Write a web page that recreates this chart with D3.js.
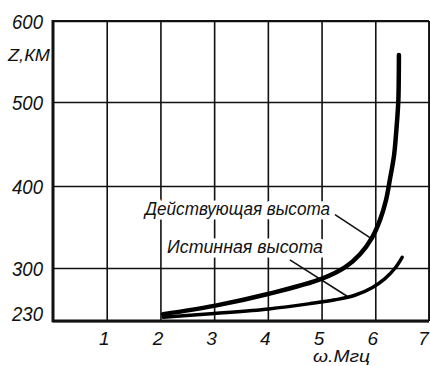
<!DOCTYPE html>
<html>
<head>
<meta charset="utf-8">
<script src="https://cdn.jsdelivr.net/npm/d3@7"></script>
<style>
  html, body { margin: 0; padding: 0; background: #fff; }
  svg { display: block; }
  text { font-family: "Liberation Sans", Arial, sans-serif; font-style: italic; fill: #111; }
</style>
</head>
<body>
<svg id="chart" width="430" height="366"></svg>
<script>
// ---- data ----
const xTicks = [1, 2, 3, 4, 5, 6, 7];
const yTicks = [230, 300, 400, 500, 600];
const xLabel = "ω.Мгц";
const yLabel = "Z,КМ";

// Действующая высота (virtual height): frequency, MHz / height, km
const virtualFreq   = [2.05, 3.00, 4.02, 5.01, 5.44, 5.72, 5.94, 6.09, 6.20, 6.27, 6.35, 6.40, 6.43, 6.44];
const virtualHeight = [239,  250,  266,  286,  301,  317,  337,  359,  383,  407,  437,  473,  503,  558];

// Истинная высота (true height)
const trueFreq   = [2.05, 3.00, 4.02, 4.79, 5.25, 5.62, 5.94, 6.18, 6.37, 6.50];
const trueHeight = [235,  240,  246,  253,  258,  264,  274,  286,  300,  313];

const virtualName = "Действующая высота";
const trueName = "Истинная высота";

// ---- layout ----
const svg = d3.select("#chart");
const mLeft = 53, mRight = 429, mTop = 21, mBottom = 321;

const x = d3.scaleLinear().domain([0, 7]).range([mLeft, mRight]);
// the original grid is unevenly spaced: piecewise-linear scale
const y = d3.scaleLinear().domain([230, 300, 400, 500, 600]).range([mBottom, 268, 186, 102, mTop]);

// gridlines via axes
const gx = svg.append("g").attr("transform", `translate(0,${mBottom})`)
  .call(d3.axisBottom(x).tickValues(xTicks).tickSize(-(mBottom - mTop)).tickFormat(d3.format("d")));
gx.select(".domain").remove();
gx.selectAll("line").attr("stroke", "#111").attr("stroke-width", 1.6);
gx.selectAll("text")
  .attr("y", 24).attr("dy", 0).attr("x", d => d === 7 ? -6 : -3)
  .attr("font-size", 19).attr("text-anchor", "middle");

const gy = svg.append("g").attr("transform", `translate(${mLeft},0)`)
  .call(d3.axisLeft(y).tickValues(yTicks).tickSize(-(mRight - mLeft)).tickFormat(d3.format("d")));
gy.select(".domain").remove();
gy.selectAll("line").attr("stroke", "#111").attr("stroke-width", 1.6);
gy.selectAll("text")
  .attr("x", -10).attr("dy", 0)
  .attr("y", d => d === 230 ? -1 : 7)
  .attr("font-size", 20).attr("text-anchor", "end")
  .attr("textLength", 31).attr("lengthAdjust", "spacingAndGlyphs");

// frame
const frame = svg.append("g").attr("stroke", "#111").attr("fill", "none");
frame.append("line").attr("x1", mLeft).attr("x2", mLeft).attr("y1", mTop - 1).attr("y2", mBottom + 1).attr("stroke-width", 3);
frame.append("line").attr("x1", mLeft - 1).attr("x2", mRight).attr("y1", mBottom).attr("y2", mBottom).attr("stroke-width", 3);
frame.append("line").attr("x1", mLeft).attr("x2", mRight).attr("y1", mTop).attr("y2", mTop).attr("stroke-width", 2.2);
frame.append("line").attr("x1", mRight).attr("x2", mRight).attr("y1", mTop).attr("y2", mBottom).attr("stroke-width", 1.8);

// axis titles
svg.append("text").attr("x", 8).attr("y", 61).attr("font-size", 17)
  .attr("textLength", 42).attr("lengthAdjust", "spacingAndGlyphs").text(yLabel);
svg.append("text").attr("x", 313).attr("y", 362).attr("font-size", 17)
  .attr("textLength", 57).attr("lengthAdjust", "spacingAndGlyphs").text(xLabel);

// labels with white halo (gridlines are interrupted behind them)
function label(txt, px, py, len) {
  svg.append("text").attr("x", px).attr("y", py).attr("font-size", 18)
    .attr("textLength", len).attr("lengthAdjust", "spacingAndGlyphs")
    .attr("stroke", "#fff").attr("stroke-width", 9).attr("stroke-linejoin", "round")
    .style("paint-order", "stroke").text(txt);
}
label(virtualName, 145, 215, 185);
label(trueName, 167, 253, 156);

// leader lines (data coords)
const leaders = [
  [[5.25, 365], [5.90, 337]],
  [[4.41, 310], [5.49, 262]]
];
svg.append("g").selectAll("line").data(leaders).join("line")
  .attr("x1", d => x(d[0][0])).attr("y1", d => y(d[0][1]))
  .attr("x2", d => x(d[1][0])).attr("y2", d => y(d[1][1]))
  .attr("stroke", "#111").attr("stroke-width", 1.6);

// curves
const line = d3.line().x(d => x(d[0])).y(d => y(d[1])).curve(d3.curveCatmullRom.alpha(0.5));
svg.append("path").datum(d3.zip(virtualFreq, virtualHeight))
  .attr("d", line).attr("fill", "none").attr("stroke", "#000")
  .attr("stroke-width", 4.5).attr("stroke-linecap", "round");
svg.append("path").datum(d3.zip(trueFreq, trueHeight))
  .attr("d", line).attr("fill", "none").attr("stroke", "#000")
  .attr("stroke-width", 3.5).attr("stroke-linecap", "round");
</script>
</body>
</html>
